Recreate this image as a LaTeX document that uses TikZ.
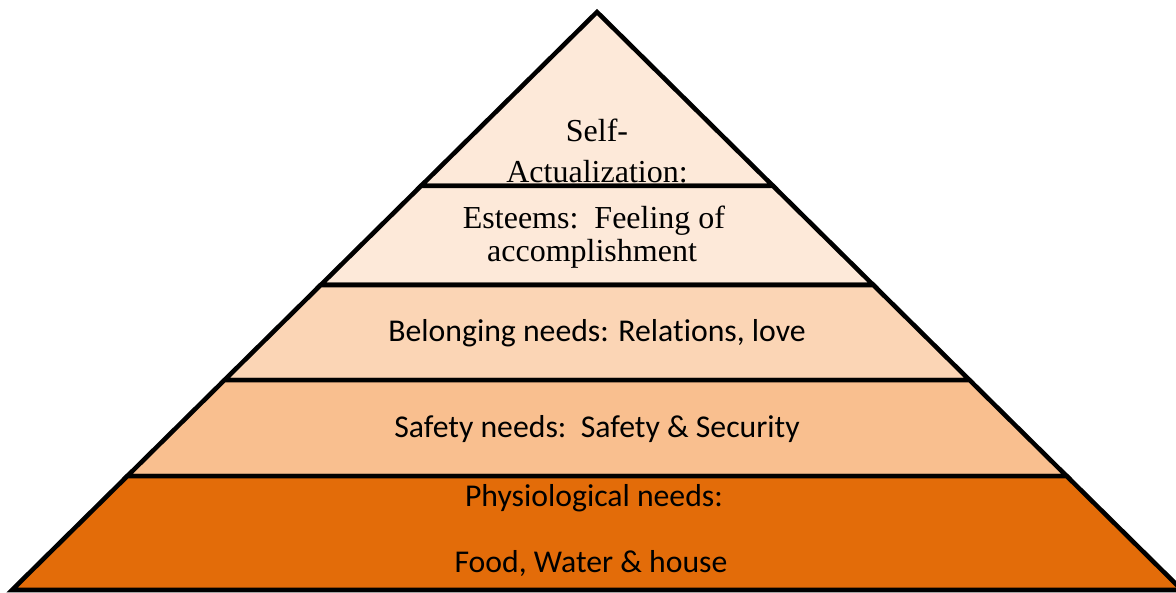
\documentclass[tikz,border=0pt]{standalone}
\usepackage{fontspec}
\setmainfont{Liberation Serif}
\newfontfamily\calibri[Ligatures=NoCommon]{Carlito}
\usepackage{xcolor}
\usetikzlibrary{calc}

\definecolor{tierA}{HTML}{FDE9D9}
\definecolor{tierB}{HTML}{FBD5B5}
\definecolor{tierC}{HTML}{F9BF8F}
\definecolor{tierD}{HTML}{E36C09}

\tikzset{
  tier/.style={draw=black, line width=3.4pt, line join=miter},
  serif/.style={font=\fontsize{24}{28}\selectfont, align=center},
  sans/.style={font=\calibri\fontsize{23.8}{28}\selectfont, align=center}
}

\begin{document}
\begin{tikzpicture}[x=0.75pt, y=-0.75pt]
\useasboundingbox (0,0) rectangle (1176,592);

% CORNERS
  \coordinate (apex) at (597,12);
  \coordinate (bl) at (12,590);
  \coordinate (br) at (1182,590);

% TIERS (top to bottom)
  \filldraw[tier, fill=tierA] (apex) -- ($(apex)!0.3010!(bl)$) -- ($(apex)!0.3010!(br)$) -- cycle;
  \filldraw[tier, fill=tierA] ($(apex)!0.3010!(bl)$) -- ($(apex)!0.4723!(bl)$)
      -- ($(apex)!0.4723!(br)$) -- ($(apex)!0.3010!(br)$) -- cycle;
  \filldraw[tier, fill=tierB] ($(apex)!0.4723!(bl)$) -- ($(apex)!0.6367!(bl)$)
      -- ($(apex)!0.6367!(br)$) -- ($(apex)!0.4723!(br)$) -- cycle;
  \filldraw[tier, fill=tierC] ($(apex)!0.6367!(bl)$) -- ($(apex)!0.8028!(bl)$)
      -- ($(apex)!0.8028!(br)$) -- ($(apex)!0.6367!(br)$) -- cycle;
  \filldraw[tier, fill=tierD] ($(apex)!0.8028!(bl)$) -- (bl)
      -- (br) -- ($(apex)!0.8028!(br)$) -- cycle;

% LABELS
  \node[serif] (selfA) at (597,130) {Self-};
  \node[serif] (selfB) at (597,172) {Actualization:};
  \node[serif] (esteemA) at (594,221) {Esteems:\ \ Feeling of};
  \node[serif] (esteemB) at (592,254) {accomplishment};
  \node[sans] (belong) at (597,333) {Belonging needs: Relat\kern0pt ions, love};
  \node[sans] (safety) at (597,429) {Safety needs:\ \ Safety \& Security};
  \node[sans] (physA) at (594,498) {Physiological needs:};
  \node[sans] (physB) at (591,564) {Food, Water \& house};

\end{tikzpicture}
\end{document}
